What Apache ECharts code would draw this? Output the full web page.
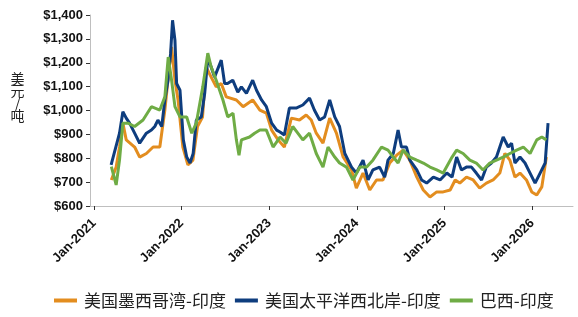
<!DOCTYPE html>
<html>
<head>
<meta charset="utf-8">
<script src="https://cdn.jsdelivr.net/npm/echarts@6/dist/echarts.min.js"></script>
<style>html,body{margin:0;padding:0;background:#fff}#c{width:578px;height:317px}</style>
</head>
<body>
<div id="c"></div>
<script>
// Series names
const seriesNames = ['美国墨西哥湾-印度', '美国太平洋西北岸-印度', '巴西-印度'];
const yTicks = [600, 700, 800, 900, 1000, 1100, 1200, 1300, 1400];

// 美国墨西哥湾-印度 (orange)
const gulfDates = ['2021-03-14','2021-04-03','2021-04-17','2021-05-01','2021-05-15','2021-06-19','2021-07-10','2021-08-07','2021-09-04','2021-10-02','2021-10-23','2021-11-05','2021-11-20','2021-12-04','2021-12-17','2022-01-06','2022-01-27','2022-02-17','2022-03-08','2022-03-29','2022-04-13','2022-05-04','2022-05-25','2022-06-15','2022-07-06','2022-08-17','2022-09-14','2022-10-24','2022-11-23','2022-12-20','2023-01-11','2023-02-07','2023-03-05','2023-04-03','2023-05-07','2023-06-04','2023-06-25','2023-07-16','2023-08-13','2023-09-10','2023-10-08','2023-11-05','2023-12-10','2023-12-30','2024-01-27','2024-02-24','2024-03-23','2024-04-19','2024-05-17','2024-06-15','2024-07-12','2024-08-09','2024-09-07','2024-10-04','2024-11-01','2024-11-29','2024-12-26','2025-01-24','2025-02-14','2025-03-05','2025-04-02','2025-04-30','2025-05-27','2025-06-24','2025-07-22','2025-08-19','2025-09-09','2025-09-30','2025-10-21','2025-11-11','2025-12-08','2025-12-30','2026-01-20','2026-02-10','2026-03-01'];
const gulfValues = [709,763,847,947,877,847,805,820,847,847,1002,1127,1266,1127,1044,847,772,792,933,973,1182,1140,1099,1113,1057,1044,1016,1044,1002,989,918,877,847,968,960,981,960,905,863,968,905,805,751,675,738,667,709,709,780,813,834,792,721,667,638,659,659,667,709,696,721,709,675,696,709,738,820,792,721,738,709,659,646,680,805];

// 美国太平洋西北岸-印度 (blue)
const pnwDates = ['2021-03-13','2021-04-17','2021-05-01','2021-05-15','2021-05-29','2021-06-19','2021-07-10','2021-08-07','2021-08-28','2021-09-11','2021-09-24','2021-10-10','2021-10-23','2021-11-05','2021-11-16','2021-11-24','2021-12-04','2021-12-11','2021-12-25','2022-01-08','2022-01-22','2022-02-05','2022-02-18','2022-03-03','2022-03-24','2022-04-07','2022-04-20','2022-05-04','2022-05-18','2022-06-15','2022-06-29','2022-07-11','2022-08-02','2022-08-23','2022-09-07','2022-09-28','2022-10-24','2022-11-09','2022-11-30','2022-12-20','2023-01-11','2023-02-01','2023-02-15','2023-03-05','2023-03-26','2023-04-23','2023-05-21','2023-06-18','2023-07-08','2023-07-30','2023-08-20','2023-09-10','2023-10-01','2023-10-21','2023-11-12','2023-12-10','2023-12-30','2024-01-27','2024-02-17','2024-03-08','2024-04-05','2024-04-26','2024-05-10','2024-06-01','2024-06-21','2024-07-05','2024-07-26','2024-08-09','2024-09-07','2024-09-27','2024-10-18','2024-11-15','2024-12-13','2025-01-10','2025-02-01','2025-02-20','2025-03-12','2025-04-02','2025-04-23','2025-05-13','2025-06-04','2025-06-24','2025-07-15','2025-08-05','2025-09-02','2025-09-23','2025-10-07','2025-10-21','2025-11-11','2025-12-02','2025-12-23','2026-01-13','2026-02-03','2026-02-24','2026-03-08'];
const pnwValues = [772,905,995,968,947,905,863,905,918,933,960,933,1044,1127,1240,1378,1295,1113,1085,877,805,780,820,960,973,1072,1219,1182,1140,1211,1113,1113,1127,1077,1099,1072,1127,1085,1044,1016,947,918,910,897,1010,1010,1023,1052,1002,960,973,1044,973,933,820,763,738,792,709,751,763,721,792,820,918,847,847,792,751,709,696,721,709,738,721,805,751,763,763,738,709,763,780,805,889,847,863,780,805,780,738,696,738,780,947];

// 巴西-印度 (green)
const brazilDates = ['2021-03-14','2021-04-03','2021-04-17','2021-05-01','2021-05-22','2021-06-19','2021-07-24','2021-08-28','2021-10-02','2021-10-23','2021-11-06','2021-11-20','2021-12-04','2021-12-25','2022-01-22','2022-02-12','2022-03-03','2022-03-30','2022-04-20','2022-05-04','2022-05-25','2022-06-22','2022-07-12','2022-08-03','2022-08-17','2022-08-28','2022-09-07','2022-10-11','2022-11-01','2022-11-23','2022-12-20','2023-01-17','2023-02-07','2023-02-15','2023-03-12','2023-04-09','2023-04-30','2023-05-21','2023-06-18','2023-07-16','2023-08-13','2023-09-03','2023-10-01','2023-10-21','2023-11-19','2023-12-16','2024-01-14','2024-02-11','2024-03-08','2024-04-13','2024-05-10','2024-06-01','2024-06-21','2024-07-12','2024-08-09','2024-09-07','2024-10-04','2024-11-01','2024-11-29','2024-12-26','2025-02-01','2025-02-20','2025-03-19','2025-04-16','2025-05-13','2025-06-10','2025-07-08','2025-08-05','2025-09-02','2025-09-30','2025-10-28','2025-11-25','2025-12-23','2026-01-20','2026-02-10','2026-03-01'];
const brazilValues = [765,688,792,947,947,933,960,1016,1002,1057,1224,1127,1016,973,973,905,947,1099,1240,1182,1127,1044,973,989,877,813,877,889,905,918,918,847,877,889,863,933,905,877,905,820,763,847,805,780,763,709,763,763,792,847,834,805,780,834,805,792,780,763,751,738,805,834,820,792,780,751,780,792,805,820,834,847,820,877,889,877];

const colors = ['#E38D1F', '#0E3D7E', '#6FAC45'];

function pairs(d, v) { return d.map((x, i) => [x, v[i]]); }

const chart = echarts.init(document.getElementById('c'), null, {renderer: 'canvas'});
chart.setOption({
  animation: false,
  color: colors,
  grid: {left: 90, right: 5, top: 15, bottom: 111},
  legend: {
    left: 49, top: 287,
    itemWidth: 23, itemHeight: 4, itemGap: 9,
    icon: 'rect',
    textStyle: {fontFamily: 'Noto Sans CJK SC', fontSize: 17, color: '#222', padding: [0, 0, 0, 2]},
    data: seriesNames
  },
  graphic: [{
    type: 'text', x: 17.5, y: 97,
    style: {text: '美\n元\n/\n吨', align: 'center', verticalAlign: 'middle',
      font: '14px "Noto Sans CJK SC"', lineHeight: 12.5, fill: '#222'}
  }],
  xAxis: {
    type: 'time',
    min: '2020-12-15', max: '2026-06-20',
    splitNumber: 6,
    minInterval: 360 * 86400000,
    splitLine: {show: false},
    axisLine: {lineStyle: {color: '#BFBFBF', width: 1}},
    axisTick: {show: true, length: 4, lineStyle: {color: '#333'}},
    axisLabel: {
      rotate: 45, margin: 15, color: '#111', fontWeight: 'bold',
      fontFamily: 'Liberation Sans', fontSize: 13,
      formatter: v => 'Jan-' + new Date(v).getFullYear()
    }
  },
  yAxis: {
    type: 'value', min: 600, max: 1400, interval: 100,
    splitLine: {show: false},
    axisLine: {show: true, lineStyle: {color: '#BFBFBF', width: 1}},
    axisTick: {show: true, length: 4, lineStyle: {color: '#333'}},
    axisLabel: {
      margin: 7, color: '#111', fontWeight: 'bold', fontFamily: 'Liberation Sans', fontSize: 13,
      formatter: v => '$' + v.toLocaleString('en-US')
    }
  },
  series: [
    {name: seriesNames[0], type: 'line', showSymbol: false, symbol: 'none', data: pairs(gulfDates, gulfValues), lineStyle: {width: 3}},
    {name: seriesNames[1], type: 'line', showSymbol: false, symbol: 'none', data: pairs(pnwDates, pnwValues), lineStyle: {width: 3}},
    {name: seriesNames[2], type: 'line', showSymbol: false, symbol: 'none', data: pairs(brazilDates, brazilValues), lineStyle: {width: 3}}
  ]
});
</script>
</body>
</html>
